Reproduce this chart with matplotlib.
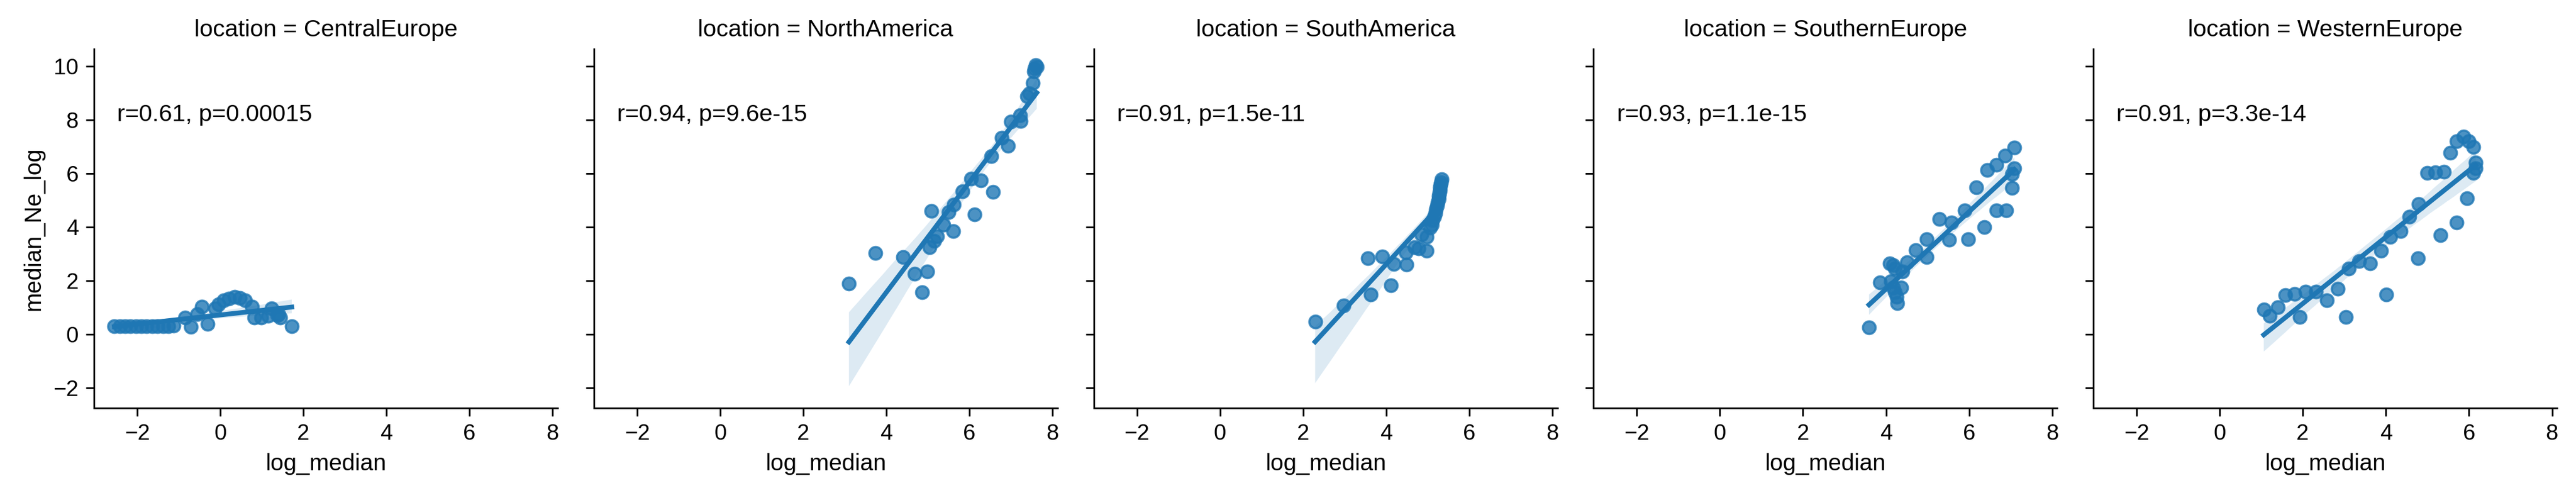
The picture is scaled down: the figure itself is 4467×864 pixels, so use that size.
import numpy as np
import pandas as pd
import matplotlib
matplotlib.use("Agg")
import matplotlib.pyplot as plt
import seaborn as sns

plt.rcParams["font.family"] = ["Liberation Sans", "DejaVu Sans"]
plt.rcParams["xtick.labelsize"] = 10.5
plt.rcParams["ytick.labelsize"] = 10.5
plt.rcParams["axes.labelsize"] = 11
plt.rcParams["xtick.major.size"] = 3.8
plt.rcParams["ytick.major.size"] = 3.8

locations = ["CentralEurope", "NorthAmerica", "SouthAmerica", "SouthernEurope", "WesternEurope"]
r_text = ["0.61", "0.94", "0.91", "0.93", "0.91"]
p_text = ["0.00015", "9.6e-15", "1.5e-11", "1.1e-15", "3.3e-14"]

ce_x = [-2.55, -2.42, -2.29, -2.16, -2.03, -1.90, -1.77, -1.64, -1.51, -1.38, -1.25, -1.12,
        -0.85, -0.71, -0.55, -0.45, -0.30, -0.13, -0.04, 0.08, 0.21, 0.34, 0.47, 0.59,
        0.76, 0.82, 0.98, 1.15, 1.23, 1.37, 1.40, 1.44, 1.72]
ce_y = [0.30, 0.30, 0.30, 0.30, 0.30, 0.30, 0.30, 0.30, 0.30, 0.30, 0.31, 0.33,
        0.62, 0.28, 0.75, 1.04, 0.39, 0.98, 1.12, 1.28, 1.34, 1.40, 1.36, 1.28,
        1.04, 0.63, 0.63, 0.69, 0.98, 0.71, 0.75, 0.63, 0.30]

na_x = [3.10, 3.74, 4.40, 4.68, 4.99, 4.86, 5.04, 5.15, 5.22, 5.08, 5.38, 5.61, 5.50, 5.63,
        5.83, 6.04, 6.28, 6.12, 6.57, 6.52, 6.77, 6.93, 7.00, 7.22, 7.23, 7.39, 7.44, 7.52,
        7.56, 7.60, 7.62, 7.57]
na_y = [1.89, 3.03, 2.88, 2.26, 2.34, 1.58, 3.24, 3.48, 3.66, 4.60, 4.09, 3.85, 4.56, 4.84,
        5.34, 5.80, 5.75, 4.48, 5.32, 6.64, 7.33, 7.02, 7.94, 8.17, 7.95, 8.88, 8.99, 9.37,
        9.81, 10.03, 9.98, 9.90]

sa_x = [2.29, 2.97, 3.56, 3.90, 3.63, 4.12, 4.19, 4.49, 4.47, 4.68, 4.78, 4.97, 4.85, 4.98,
        5.06, 5.10, 5.12, 5.15, 5.18, 5.20, 5.22, 5.24, 5.26, 5.27, 5.28, 5.29, 5.30, 5.31,
        5.32, 5.33]
sa_y = [0.47, 1.07, 2.84, 2.90, 1.48, 1.83, 2.63, 2.61, 3.05, 3.24, 3.20, 3.11, 3.72, 3.63,
        3.98, 4.09, 4.25, 4.38, 4.52, 4.66, 4.80, 4.93, 5.05, 5.16, 5.27, 5.38, 5.48, 5.58,
        5.68, 5.78]

se_x = [3.59, 3.85, 4.09, 4.17, 4.21, 4.11, 4.17, 4.21, 4.25, 4.27, 4.36, 4.40, 4.50, 4.72,
        4.98, 4.98, 5.28, 5.52, 5.57, 5.89, 5.97, 6.17, 6.37, 6.43, 6.66, 6.66, 6.87, 6.89,
        7.09, 7.09, 7.03, 7.03]
se_y = [0.27, 1.93, 2.64, 2.58, 2.46, 1.99, 1.75, 1.57, 1.40, 1.16, 1.75, 2.34, 2.70, 3.14,
        3.56, 2.88, 4.30, 3.53, 4.18, 4.63, 3.56, 5.48, 4.00, 6.13, 6.31, 4.63, 6.66, 4.63,
        6.96, 6.19, 5.98, 5.46]

we_x = [1.06, 1.21, 1.40, 1.58, 1.80, 1.92, 2.06, 2.31, 2.58, 2.84, 3.03, 3.11, 3.35, 3.62,
        3.89, 4.01, 4.11, 4.35, 4.57, 4.77, 4.78, 4.99, 5.19, 5.39, 5.31, 5.55, 5.70, 5.70,
        5.87, 6.00, 6.11, 5.95, 6.16, 6.16, 6.11]
we_y = [0.92, 0.69, 1.01, 1.46, 1.51, 0.65, 1.60, 1.60, 1.28, 1.70, 0.65, 2.46, 2.73, 2.64,
        3.11, 1.48, 3.64, 3.85, 4.38, 2.85, 4.85, 6.01, 6.04, 6.07, 3.70, 6.78, 4.18, 7.20,
        7.37, 7.20, 6.99, 5.07, 6.40, 6.19, 6.01]

xs = [ce_x, na_x, sa_x, se_x, we_x]
ys = [ce_y, na_y, sa_y, se_y, we_y]

W, H, DPI = 4467, 864, 265
fig = plt.figure(figsize=(W / DPI, H / DPI), dpi=DPI)

for i, loc in enumerate(locations):
    left = 163 + i * 866.8
    ax = fig.add_axes([left / W, 156 / H, 804 / W, 622.6 / H])
    df = pd.DataFrame({"log_median": xs[i], "median_Ne_log": ys[i]})
    sns.regplot(data=df, x="log_median", y="median_Ne_log", ax=ax, seed=3, truncate=True)
    ax.text(0.05, 0.8, f"r={r_text[i]}, p={p_text[i]}", transform=ax.transAxes, fontsize=11.25)
    ax.set_title(f"location = {loc}", fontsize=11.25)
    ax.set_xlim(-3.04, 8.12)
    ax.set_ylim(-2.745, 10.63)
    ax.set_xticks([-2, 0, 2, 4, 6, 8])
    ax.set_yticks([-2, 0, 2, 4, 6, 8, 10])
    ax.spines["top"].set_visible(False)
    ax.spines["right"].set_visible(False)
    if i > 0:
        ax.set_ylabel("")
        ax.tick_params(labelleft=False)

fig.savefig("out.png", dpi=DPI)
